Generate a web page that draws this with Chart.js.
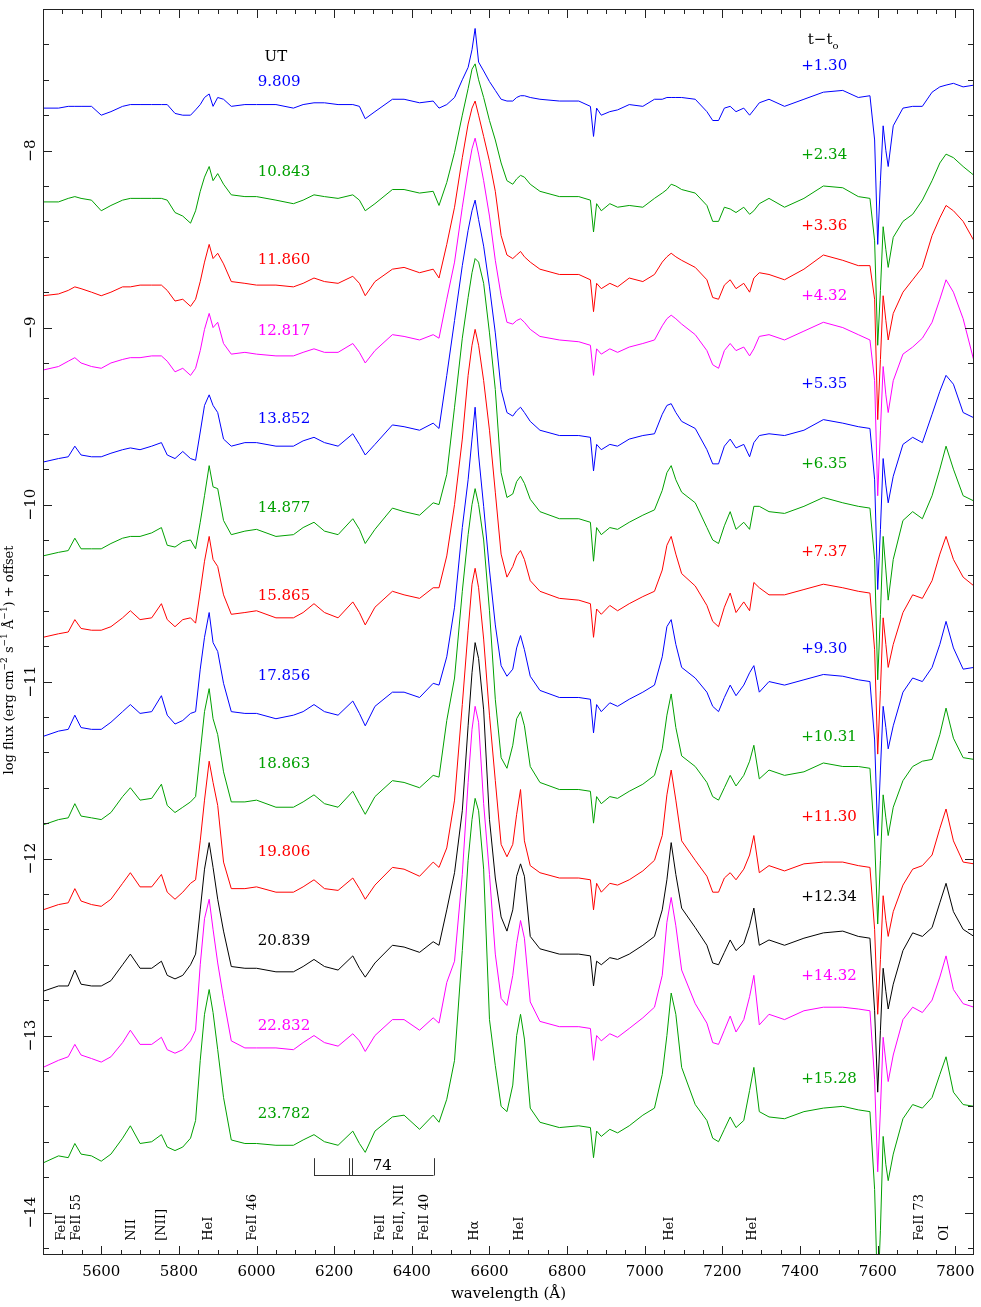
<!DOCTYPE html>
<html>
<head>
<meta charset="utf-8">
<title>Spectral evolution</title>
<script src="https://cdn.jsdelivr.net/npm/chart.js@4.4.1/dist/chart.umd.min.js"></script>
<style>
  html, body { margin: 0; padding: 0; background: #fff; }
  #wrap { width: 981px; height: 1307px; position: relative; }
</style>
</head>
<body>
<div id="wrap"><canvas id="chart"></canvas></div>
<script>
// Wavelength grid (Angstrom), shared by every spectrum
const wavelength = [5450,5490,5515,5532,5548,5575,5600,5625,5655,5675,5700,5730,5755,5770,5790,5810,5830,5843,5855,5866,
  5878,5888,5900,5915,5935,5970,6000,6050,6095,6120,6148,6175,6210,6248,6265,6280,6305,6350,6380,6420,
  6455,6470,6490,6510,6530,6545,6555,6563,6572,6585,6600,6615,6630,6645,6660,6670,6680,6690,6705,6730,
  6780,6830,6860,6868,6876,6888,6910,6930,6960,6995,7025,7045,7057,7068,7080,7095,7130,7160,7175,7190,
  7205,7220,7235,7255,7270,7281,7295,7320,7360,7410,7460,7510,7550,7580,7592,7600,7607,7614,7621,7627,
  7640,7665,7690,7715,7740,7760,7776,7795,7820,7848];

// log flux + offset, one array per spectrum (top to bottom)
const spec1 = [-7.76,-7.76,-7.75,-7.75,-7.75,-7.75,-7.80,-7.78,-7.75,-7.74,
  -7.74,-7.74,-7.74,-7.74,-7.79,-7.80,-7.80,-7.77,-7.74,-7.70,
  -7.68,-7.75,-7.70,-7.71,-7.75,-7.74,-7.74,-7.74,-7.76,-7.74,
  -7.73,-7.73,-7.74,-7.74,-7.75,-7.82,-7.78,-7.71,-7.71,-7.73,
  -7.72,-7.76,-7.74,-7.70,-7.60,-7.53,-7.43,-7.31,-7.50,-7.55,
  -7.61,-7.66,-7.71,-7.72,-7.72,-7.70,-7.69,-7.69,-7.70,-7.71,
  -7.72,-7.72,-7.75,-7.92,-7.76,-7.80,-7.78,-7.77,-7.74,-7.75,
  -7.71,-7.71,-7.70,-7.70,-7.70,-7.70,-7.71,-7.78,-7.83,-7.83,
  -7.76,-7.75,-7.78,-7.76,-7.80,-7.77,-7.73,-7.71,-7.75,-7.71,
  -7.67,-7.66,-7.70,-7.69,-7.94,-8.53,-8.17,-7.86,-8.00,-8.09,
  -7.86,-7.76,-7.75,-7.75,-7.67,-7.64,-7.63,-7.62,-7.64,-7.63];
const spec2 = [-8.29,-8.29,-8.27,-8.26,-8.27,-8.28,-8.34,-8.31,-8.28,-8.27,
  -8.27,-8.27,-8.27,-8.28,-8.35,-8.37,-8.41,-8.34,-8.23,-8.15,
  -8.09,-8.17,-8.13,-8.19,-8.25,-8.26,-8.26,-8.28,-8.30,-8.28,
  -8.25,-8.26,-8.27,-8.25,-8.28,-8.34,-8.30,-8.22,-8.22,-8.24,
  -8.23,-8.31,-8.18,-8.01,-7.80,-7.65,-7.54,-7.51,-7.60,-7.70,
  -7.83,-7.94,-8.07,-8.17,-8.19,-8.16,-8.14,-8.15,-8.19,-8.23,
  -8.26,-8.26,-8.28,-8.46,-8.30,-8.34,-8.30,-8.32,-8.31,-8.32,
  -8.27,-8.24,-8.22,-8.19,-8.20,-8.22,-8.24,-8.31,-8.40,-8.40,
  -8.32,-8.33,-8.35,-8.32,-8.36,-8.34,-8.30,-8.27,-8.32,-8.27,
  -8.20,-8.21,-8.26,-8.27,-8.51,-9.10,-8.79,-8.43,-8.56,-8.66,
  -8.49,-8.40,-8.36,-8.28,-8.17,-8.07,-8.02,-8.04,-8.09,-8.14];
const spec3 = [-8.82,-8.81,-8.79,-8.77,-8.78,-8.80,-8.82,-8.80,-8.77,-8.77,
  -8.76,-8.76,-8.76,-8.79,-8.85,-8.84,-8.88,-8.84,-8.74,-8.63,
  -8.53,-8.61,-8.58,-8.64,-8.74,-8.75,-8.76,-8.76,-8.77,-8.75,
  -8.72,-8.74,-8.75,-8.71,-8.75,-8.82,-8.74,-8.67,-8.66,-8.69,
  -8.67,-8.72,-8.53,-8.32,-8.04,-7.85,-7.76,-7.72,-7.80,-7.92,
  -8.06,-8.23,-8.48,-8.59,-8.61,-8.59,-8.57,-8.60,-8.63,-8.67,
  -8.70,-8.70,-8.73,-8.91,-8.75,-8.78,-8.75,-8.77,-8.72,-8.74,
  -8.70,-8.63,-8.60,-8.58,-8.60,-8.62,-8.66,-8.73,-8.83,-8.84,
  -8.76,-8.73,-8.78,-8.75,-8.80,-8.72,-8.69,-8.70,-8.73,-8.67,
  -8.59,-8.62,-8.65,-8.65,-8.84,-9.52,-9.18,-8.82,-8.96,-9.07,
  -8.92,-8.80,-8.73,-8.66,-8.48,-8.38,-8.31,-8.34,-8.40,-8.51];
const spec4 = [-9.24,-9.22,-9.19,-9.17,-9.20,-9.22,-9.23,-9.20,-9.18,-9.17,
  -9.17,-9.16,-9.16,-9.19,-9.25,-9.23,-9.27,-9.23,-9.13,-9.01,
  -8.92,-9.00,-8.97,-9.09,-9.15,-9.14,-9.15,-9.16,-9.16,-9.14,
  -9.12,-9.14,-9.14,-9.09,-9.14,-9.20,-9.13,-9.04,-9.05,-9.07,
  -9.04,-9.06,-8.84,-8.63,-8.32,-8.11,-7.99,-7.93,-8.02,-8.17,
  -8.37,-8.62,-8.82,-8.97,-8.98,-8.96,-8.95,-8.97,-9.01,-9.05,
  -9.07,-9.08,-9.10,-9.27,-9.12,-9.15,-9.12,-9.14,-9.11,-9.09,
  -9.07,-8.99,-8.95,-8.93,-8.95,-8.98,-9.04,-9.13,-9.21,-9.23,
  -9.13,-9.09,-9.13,-9.11,-9.16,-9.12,-9.05,-9.04,-9.07,-9.02,
  -8.97,-9.00,-9.04,-9.07,-9.30,-9.95,-9.58,-9.22,-9.38,-9.48,
  -9.30,-9.15,-9.11,-9.06,-8.97,-8.84,-8.73,-8.80,-8.95,-9.19];
const spec5 = [-9.76,-9.74,-9.73,-9.67,-9.72,-9.73,-9.73,-9.71,-9.69,-9.68,
  -9.69,-9.67,-9.65,-9.72,-9.74,-9.70,-9.74,-9.75,-9.59,-9.44,
  -9.38,-9.44,-9.48,-9.63,-9.67,-9.65,-9.65,-9.67,-9.67,-9.64,
  -9.62,-9.65,-9.67,-9.60,-9.66,-9.72,-9.66,-9.55,-9.56,-9.58,
  -9.54,-9.57,-9.27,-8.96,-8.65,-8.45,-8.34,-8.28,-8.39,-8.54,
  -8.77,-9.03,-9.35,-9.48,-9.50,-9.47,-9.45,-9.48,-9.53,-9.58,
  -9.61,-9.61,-9.62,-9.81,-9.66,-9.69,-9.66,-9.67,-9.63,-9.61,
  -9.60,-9.49,-9.44,-9.43,-9.48,-9.53,-9.57,-9.69,-9.77,-9.77,
  -9.67,-9.63,-9.68,-9.66,-9.73,-9.65,-9.61,-9.60,-9.61,-9.58,
  -9.52,-9.54,-9.56,-9.57,-9.86,-10.48,-10.14,-9.74,-9.89,-9.99,
  -9.84,-9.66,-9.62,-9.65,-9.49,-9.36,-9.27,-9.32,-9.48,-9.51];
const spec6 = [-10.29,-10.27,-10.26,-10.19,-10.25,-10.25,-10.25,-10.22,-10.19,-10.18,
  -10.18,-10.16,-10.13,-10.23,-10.24,-10.21,-10.20,-10.25,-10.10,-9.95,
  -9.78,-9.90,-9.91,-10.09,-10.17,-10.15,-10.14,-10.18,-10.17,-10.13,
  -10.10,-10.15,-10.17,-10.08,-10.14,-10.22,-10.14,-10.02,-10.04,-10.06,
  -9.99,-10.00,-9.83,-9.45,-9.06,-8.83,-8.69,-8.61,-8.63,-8.75,
  -9.03,-9.35,-9.82,-9.96,-9.94,-9.87,-9.84,-9.88,-9.97,-10.04,
  -10.08,-10.08,-10.10,-10.32,-10.13,-10.17,-10.13,-10.14,-10.10,-10.06,
  -10.03,-9.92,-9.82,-9.78,-9.86,-9.93,-9.99,-10.13,-10.20,-10.22,
  -10.12,-10.04,-10.14,-10.10,-10.14,-10.01,-10.01,-10.04,-10.05,-10.01,
  -9.96,-9.99,-10.01,-10.02,-10.31,-10.99,-10.62,-10.18,-10.37,-10.54,
  -10.31,-10.09,-10.04,-10.08,-9.95,-9.80,-9.67,-9.80,-9.95,-9.98];
const spec7 = [-10.75,-10.73,-10.72,-10.65,-10.70,-10.71,-10.71,-10.69,-10.64,-10.60,
  -10.65,-10.64,-10.56,-10.65,-10.69,-10.65,-10.64,-10.67,-10.49,-10.32,
  -10.18,-10.31,-10.35,-10.51,-10.62,-10.61,-10.60,-10.64,-10.64,-10.61,
  -10.56,-10.61,-10.64,-10.55,-10.61,-10.68,-10.58,-10.49,-10.51,-10.53,
  -10.47,-10.47,-10.29,-10.00,-9.63,-9.27,-9.10,-9.01,-9.10,-9.30,
  -9.58,-9.93,-10.28,-10.41,-10.35,-10.29,-10.26,-10.31,-10.43,-10.49,
  -10.53,-10.54,-10.56,-10.75,-10.59,-10.62,-10.57,-10.60,-10.56,-10.52,
  -10.49,-10.37,-10.23,-10.18,-10.28,-10.39,-10.46,-10.57,-10.66,-10.69,
  -10.58,-10.50,-10.61,-10.55,-10.60,-10.44,-10.47,-10.51,-10.51,-10.48,
  -10.45,-10.47,-10.49,-10.50,-10.82,-11.41,-11.05,-10.64,-10.79,-10.92,
  -10.79,-10.61,-10.51,-10.53,-10.43,-10.28,-10.18,-10.31,-10.41,-10.46];
const spec8 = [-11.31,-11.28,-11.27,-11.19,-11.26,-11.27,-11.27,-11.23,-11.17,-11.13,
  -11.18,-11.17,-11.08,-11.19,-11.24,-11.22,-11.18,-11.17,-10.93,-10.75,
  -10.61,-10.78,-10.83,-11.01,-11.17,-11.18,-11.18,-11.21,-11.19,-11.17,
  -11.13,-11.17,-11.19,-11.11,-11.18,-11.25,-11.14,-11.06,-11.06,-11.09,
  -11.01,-11.02,-10.86,-10.58,-10.13,-9.86,-9.63,-9.45,-9.72,-10.01,
  -10.37,-10.68,-10.91,-10.97,-10.93,-10.81,-10.74,-10.82,-10.97,-11.05,
  -11.09,-11.09,-11.10,-11.29,-11.13,-11.17,-11.12,-11.14,-11.10,-11.06,
  -11.02,-10.86,-10.69,-10.65,-10.79,-10.92,-10.98,-11.06,-11.14,-11.17,
  -11.09,-11.02,-11.08,-11.02,-10.95,-10.91,-11.06,-11.00,-11.02,-10.99,
  -10.96,-10.97,-10.99,-11.00,-11.33,-11.87,-11.50,-11.14,-11.26,-11.38,
  -11.25,-11.06,-10.98,-11.00,-10.92,-10.79,-10.66,-10.81,-10.93,-10.92];
const spec9 = [-11.81,-11.78,-11.77,-11.69,-11.76,-11.77,-11.78,-11.74,-11.65,-11.60,
  -11.67,-11.66,-11.58,-11.70,-11.74,-11.71,-11.68,-11.65,-11.40,-11.17,
  -11.04,-11.21,-11.30,-11.51,-11.68,-11.68,-11.67,-11.71,-11.71,-11.68,
  -11.64,-11.69,-11.71,-11.62,-11.69,-11.75,-11.65,-11.56,-11.57,-11.60,
  -11.53,-11.54,-11.22,-10.98,-10.49,-10.17,-10.00,-9.91,-10.00,-10.20,
  -10.60,-11.10,-11.43,-11.49,-11.36,-11.21,-11.17,-11.25,-11.48,-11.57,
  -11.61,-11.61,-11.62,-11.80,-11.65,-11.69,-11.65,-11.66,-11.62,-11.58,
  -11.53,-11.38,-11.19,-11.07,-11.26,-11.42,-11.48,-11.57,-11.65,-11.67,
  -11.60,-11.53,-11.59,-11.53,-11.45,-11.36,-11.55,-11.50,-11.53,-11.51,
  -11.46,-11.48,-11.48,-11.49,-11.89,-12.37,-12.01,-11.64,-11.77,-11.87,
  -11.71,-11.56,-11.48,-11.45,-11.44,-11.30,-11.15,-11.32,-11.43,-11.44];
const spec10 = [-12.29,-12.26,-12.25,-12.17,-12.24,-12.26,-12.27,-12.23,-12.14,-12.08,
  -12.16,-12.16,-12.09,-12.19,-12.23,-12.19,-12.14,-12.12,-11.90,-11.67,
  -11.45,-11.57,-11.70,-12.02,-12.17,-12.17,-12.16,-12.19,-12.19,-12.16,
  -12.12,-12.17,-12.18,-12.11,-12.17,-12.23,-12.15,-12.05,-12.06,-12.10,
  -12.02,-12.05,-11.94,-11.67,-11.13,-10.71,-10.45,-10.36,-10.47,-10.76,
  -11.19,-11.56,-11.92,-11.99,-11.92,-11.75,-11.61,-11.90,-12.04,-12.08,
  -12.11,-12.11,-12.12,-12.29,-12.14,-12.19,-12.14,-12.15,-12.12,-12.07,
  -12.01,-11.87,-11.64,-11.50,-11.67,-11.90,-12.01,-12.10,-12.19,-12.19,
  -12.11,-12.08,-12.12,-12.06,-11.98,-11.87,-12.08,-12.04,-12.07,-12.03,
  -12.02,-12.02,-12.04,-12.05,-12.40,-12.88,-12.57,-12.21,-12.35,-12.44,
  -12.30,-12.15,-12.06,-12.04,-11.98,-11.83,-11.72,-11.90,-12.02,-12.03];
const spec11 = [-12.75,-12.72,-12.72,-12.63,-12.71,-12.72,-12.72,-12.69,-12.60,-12.54,
  -12.62,-12.62,-12.58,-12.66,-12.68,-12.66,-12.60,-12.54,-12.29,-12.06,
  -11.91,-12.05,-12.23,-12.41,-12.61,-12.62,-12.62,-12.64,-12.64,-12.61,
  -12.57,-12.61,-12.63,-12.55,-12.62,-12.67,-12.59,-12.49,-12.50,-12.53,
  -12.47,-12.49,-12.29,-12.08,-11.73,-11.25,-10.95,-10.78,-10.87,-11.16,
  -11.78,-12.11,-12.33,-12.41,-12.29,-12.10,-12.03,-12.10,-12.44,-12.51,
  -12.54,-12.54,-12.55,-12.72,-12.58,-12.60,-12.56,-12.57,-12.54,-12.49,
  -12.44,-12.29,-12.12,-11.91,-12.09,-12.28,-12.39,-12.49,-12.59,-12.60,
  -12.53,-12.46,-12.52,-12.48,-12.38,-12.28,-12.49,-12.46,-12.49,-12.45,
  -12.42,-12.41,-12.44,-12.45,-12.86,-13.32,-12.97,-12.62,-12.75,-12.85,
  -12.71,-12.52,-12.42,-12.44,-12.39,-12.25,-12.14,-12.30,-12.40,-12.44];
const spec12 = [-13.18,-13.14,-13.12,-13.05,-13.11,-13.13,-13.15,-13.12,-13.04,-12.97,
  -13.05,-13.05,-13.01,-13.08,-13.10,-13.08,-13.03,-12.97,-12.60,-12.34,
  -12.23,-12.40,-12.59,-12.79,-13.03,-13.07,-13.07,-13.07,-13.08,-13.04,
  -13.00,-13.04,-13.06,-12.99,-13.03,-13.09,-13.00,-12.91,-12.91,-12.97,
  -12.90,-12.93,-12.70,-12.58,-12.09,-11.57,-11.27,-11.14,-11.23,-11.69,
  -12.09,-12.54,-12.79,-12.83,-12.66,-12.48,-12.35,-12.45,-12.81,-12.92,
  -12.95,-12.95,-12.96,-13.14,-13.00,-13.03,-12.99,-13.01,-12.96,-12.90,
  -12.84,-12.66,-12.36,-12.22,-12.38,-12.63,-12.82,-12.93,-13.04,-13.05,
  -12.97,-12.89,-12.98,-12.91,-12.78,-12.66,-12.94,-12.88,-12.91,-12.86,
  -12.84,-12.84,-12.85,-12.86,-13.25,-13.77,-13.42,-13.01,-13.15,-13.26,
  -13.11,-12.91,-12.84,-12.87,-12.80,-12.67,-12.55,-12.74,-12.82,-12.84];
const spec13 = [-13.72,-13.68,-13.69,-13.61,-13.67,-13.68,-13.71,-13.67,-13.58,-13.51,
  -13.61,-13.60,-13.56,-13.63,-13.65,-13.63,-13.58,-13.48,-13.14,-12.88,
  -12.74,-12.87,-13.08,-13.35,-13.59,-13.61,-13.61,-13.62,-13.62,-13.59,
  -13.56,-13.60,-13.62,-13.54,-13.61,-13.66,-13.54,-13.46,-13.45,-13.53,
  -13.45,-13.49,-13.36,-13.14,-12.52,-12.01,-11.78,-11.66,-11.73,-12.06,
  -12.91,-13.17,-13.40,-13.43,-13.28,-13.00,-12.88,-13.02,-13.41,-13.49,
  -13.52,-13.51,-13.52,-13.69,-13.54,-13.57,-13.53,-13.55,-13.51,-13.45,
  -13.41,-13.22,-13.00,-12.76,-12.88,-13.18,-13.39,-13.48,-13.58,-13.60,
  -13.53,-13.46,-13.52,-13.48,-13.31,-13.18,-13.43,-13.46,-13.47,-13.43,
  -13.41,-13.40,-13.42,-13.43,-13.87,-14.49,-14.10,-13.57,-13.73,-13.82,
  -13.67,-13.47,-13.39,-13.41,-13.35,-13.22,-13.12,-13.32,-13.39,-13.40];

// Observation labels
const utLabels = ['9.809','10.843','11.860','12.817','13.852','14.877','15.865','17.856','18.863','19.806','20.839','22.832','23.782'];
const dtLabels = ['+1.30','+2.34','+3.36','+4.32','+5.35','+6.35','+7.37','+9.30','+10.31','+11.30','+12.34','+14.32','+15.28'];
// level (log flux) where each label sits
const utLevel = [-7.615,-8.124,-8.620,-9.019,-9.516,-10.019,-10.516,-10.968,-11.465,-11.965,-12.465,-12.946,-13.443];
const dtLevel = [-7.522,-8.025,-8.426,-8.821,-9.318,-9.770,-10.270,-10.816,-11.316,-11.768,-12.220,-12.663,-13.245];

// Axis tick labels
const xTickLabels = [5600,5800,6000,6200,6400,6600,6800,7000,7200,7400,7600,7800];
const yTickLabels = [-8,-9,-10,-11,-12,-13,-14];

// Line identifications along the bottom
const lineIdNames = ['FeII','FeII 55','NII','[NII]','HeI','FeII 46','FeII','FeII, NII','FeII 40','H\u03b1','HeI','HeI','HeI','FeII 73','OI'];
const lineIdWave = [5497,5536,5677,5756,5877,5990,6319,6368,6432,6561,6677,7064,7278,7709,7772];
// FeII multiplet 74 components
const multiplet74 = [6148,6238,6246,6456];

const spectra = [spec1,spec2,spec3,spec4,spec5,spec6,spec7,spec8,spec9,spec10,spec11,spec12,spec13];
const BLUE = '#0000ff', GREEN = '#00a000', RED = '#ff0000', MAGENTA = '#ff00ff', BLACK = '#000000';
const colors = [BLUE, GREEN, RED, MAGENTA, BLUE, GREEN, RED, BLUE, GREEN, RED, BLACK, MAGENTA, GREEN];
const FONT = '"DejaVu Serif", "Liberation Serif", serif';

// draws a string with superscript pieces, centred on the current origin
function drawRich(ctx, parts, size) {
    ctx.textAlign = 'left';
    const items = parts.map(p => {
        ctx.font = (p.sup ? Math.round(size * 0.7) : size) + 'px ' + FONT;
        return { text: p.text, sup: p.sup, w: ctx.measureText(p.text).width };
    });
    const total = items.reduce((s, it) => s + it.w, 0);
    let cx = -total / 2;
    items.forEach(it => {
        ctx.font = (it.sup ? Math.round(size * 0.7) : size) + 'px ' + FONT;
        ctx.fillText(it.text, cx, it.sup ? -size * 0.4 : 0);
        cx += it.w;
    });
}

// Frame, inward ticks, tick labels and annotations
const decor = {
    id: 'decor',
    afterDatasetsDraw(chart) {
        const { ctx, chartArea: a, scales: { x, y } } = chart;
        ctx.save();
        ctx.strokeStyle = '#222';
        ctx.lineWidth = 1;
        ctx.strokeRect(a.left + 0.5, a.top + 0.5, a.right - a.left - 1, a.bottom - a.top - 1);

        ctx.beginPath();
        for (let v = 5500; v < 7848; v += 50) {
            const px = Math.round(x.getPixelForValue(v)) + 0.5;
            const len = v % 200 === 0 ? 9 : 5;
            ctx.moveTo(px, a.bottom); ctx.lineTo(px, a.bottom - len);
            ctx.moveTo(px, a.top); ctx.lineTo(px, a.top + len);
        }
        for (let k = 37; k <= 71; k++) {
            const v = -k / 5;
            const py = Math.round(y.getPixelForValue(v)) + 0.5;
            const len = k % 5 === 0 ? 9 : 6;
            ctx.moveTo(a.left, py); ctx.lineTo(a.left + len, py);
            ctx.moveTo(a.right, py); ctx.lineTo(a.right - len, py);
        }
        ctx.stroke();

        ctx.fillStyle = '#000';
        ctx.font = '15px ' + FONT;
        ctx.textAlign = 'center';
        ctx.textBaseline = 'middle';
        xTickLabels.forEach(v => ctx.fillText(String(v), x.getPixelForValue(v), a.bottom + 17));
        yTickLabels.forEach(v => {
            ctx.save();
            ctx.translate(a.left - 12, y.getPixelForValue(v));
            ctx.rotate(-Math.PI / 2);
            ctx.fillText('\u2212' + Math.abs(v), 0, 0);
            ctx.restore();
        });

        // axis titles
        ctx.font = '15px ' + FONT;
        ctx.fillText('wavelength (\u00c5)', (a.left + a.right) / 2, a.bottom + 39);
        ctx.save();
        ctx.translate(10, 660);
        ctx.rotate(-Math.PI / 2);
        drawRich(ctx, [
            { text: 'log flux (erg cm' }, { text: '\u22122', sup: true },
            { text: ' s' }, { text: '\u22121', sup: true },
            { text: ' \u00c5' }, { text: '\u22121', sup: true },
            { text: ') + offset' }
        ], 13);
        ctx.restore();

        // column headers
        ctx.fillStyle = '#000';
        ctx.font = '15px ' + FONT;
        ctx.textAlign = 'center';
        ctx.fillText('UT', x.getPixelForValue(6050), y.getPixelForValue(-7.471));
        ctx.textAlign = 'left';
        const hx = x.getPixelForValue(7420), hy = y.getPixelForValue(-7.375);
        ctx.fillText('t\u2212t', hx, hy);
        const hw = ctx.measureText('t\u2212t').width;
        ctx.font = '10px ' + FONT;
        ctx.fillText('o', hx + hw, hy + 6);

        // per-spectrum labels
        ctx.font = '15px ' + FONT;
        ctx.textAlign = 'left';
        utLabels.forEach((t, i) => {
            ctx.fillStyle = colors[i];
            ctx.fillText(t, x.getPixelForValue(6003), y.getPixelForValue(utLevel[i]));
            ctx.fillText(dtLabels[i], x.getPixelForValue(7403), y.getPixelForValue(dtLevel[i]));
        });

        // line identifications
        ctx.fillStyle = '#000';
        ctx.font = '13px ' + FONT;
        ctx.textAlign = 'left';
        lineIdNames.forEach((t, i) => {
            ctx.save();
            ctx.translate(x.getPixelForValue(lineIdWave[i]), y.getPixelForValue(-14.16));
            ctx.rotate(-Math.PI / 2);
            ctx.fillText(t, 0, 0);
            ctx.restore();
        });

        // multiplet 74 marker
        const by = Math.round(y.getPixelForValue(-13.786)) + 0.5;
        const ty = y.getPixelForValue(-13.693);
        ctx.strokeStyle = '#333';
        ctx.beginPath();
        ctx.moveTo(x.getPixelForValue(multiplet74[0]), by);
        ctx.lineTo(x.getPixelForValue(multiplet74[multiplet74.length - 1]), by);
        multiplet74.forEach(w => {
            const px = Math.round(x.getPixelForValue(w)) + 0.5;
            ctx.moveTo(px, by); ctx.lineTo(px, ty);
        });
        ctx.stroke();
        ctx.font = '15px ' + FONT;
        ctx.textAlign = 'center';
        ctx.fillText('74', x.getPixelForValue(6324), y.getPixelForValue(-13.737));
        ctx.restore();
    }
};

new Chart(document.getElementById('chart'), {
    type: 'line',
    data: {
        datasets: spectra.map((s, i) => ({
            label: utLabels[i],
            data: s.map((v, k) => ({ x: wavelength[k], y: v })),
            borderColor: colors[i],
            borderWidth: 1,
            pointRadius: 0,
            tension: 0,
            fill: false,
            clip: 0
        }))
    },
    options: {
        responsive: true,
        maintainAspectRatio: false,
        animation: false,
        devicePixelRatio: 1,
        layout: { padding: { left: 43, right: 7, top: 9, bottom: 52 } },
        scales: {
            x: { type: 'linear', min: 5450, max: 7848, display: false },
            y: { type: 'linear', min: -14.24, max: -7.2, display: false }
        },
        plugins: { legend: { display: false }, tooltip: { enabled: false } }
    },
    plugins: [decor]
});
</script>
</body>
</html>
